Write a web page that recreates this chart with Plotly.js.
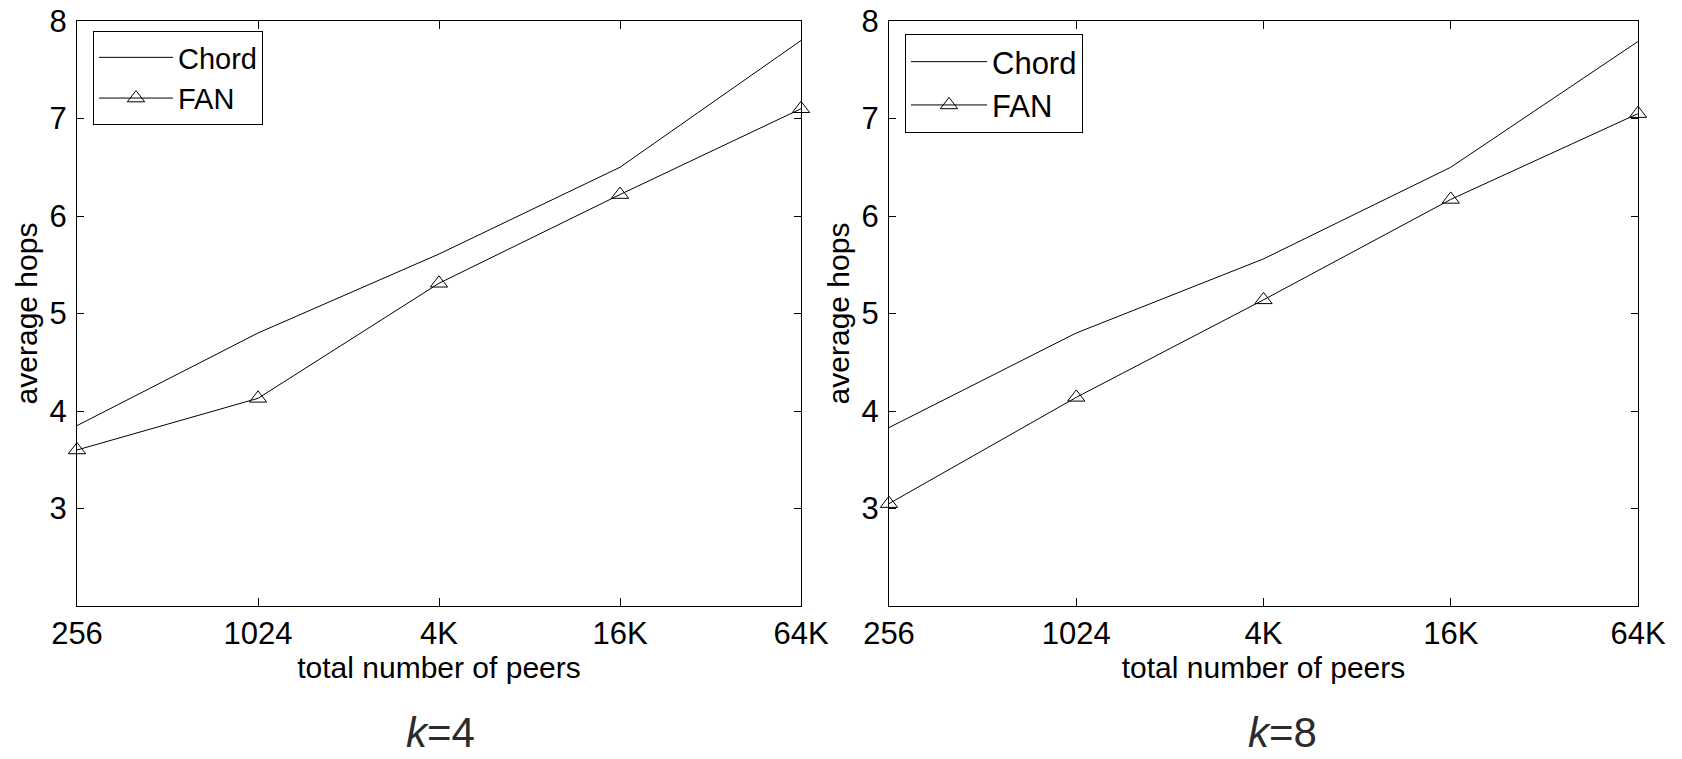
<!DOCTYPE html>
<html>
<head>
<meta charset="utf-8">
<script src="https://cdn.plot.ly/plotly-3.0.1.min.js"></script>
<style>
html,body{margin:0;padding:0;background:#fff;}
#chart{width:1682px;height:759px;}
</style>
</head>
<body>
<div id="chart"></div>
<script>
// ---- data ----
const peers = ['256', '1024', '4K', '16K', '64K'];
const chordK4 = [3.85, 4.80, 5.61, 6.50, 7.80];
const fanK4   = [3.60, 4.13, 5.31, 6.22, 7.10];
const chordK8 = [3.83, 4.80, 5.56, 6.50, 7.79];
const fanK8   = [3.05, 4.14, 5.14, 6.17, 7.05];
const yTicks = [3, 4, 5, 6, 7, 8];
const panelLabels = ['<i>k</i>=4', '<i>k</i>=8'];
const seriesNames = ['Chord', 'FAN'];

const FONT = 'Liberation Sans, Arial, sans-serif';
const W = 1682, H = 759;

function chordTrace(y, xa, ya, lg) {
  return {x: peers, y: y, xaxis: xa, yaxis: ya, legend: lg, name: seriesNames[0],
    mode: 'lines', cliponaxis: false, line: {color: '#000', width: 1}};
}
function fanTrace(y, xa, ya, lg) {
  return {x: peers, y: y, xaxis: xa, yaxis: ya, legend: lg, name: seriesNames[1],
    mode: 'lines+markers', cliponaxis: false, line: {color: '#000', width: 1},
    marker: {symbol: 'triangle-up-open', size: 15, color: '#000', line: {width: 1, color: '#000'}}};
}

const traces = [
  chordTrace(chordK4, 'x', 'y', 'legend'),
  fanTrace(fanK4, 'x', 'y', 'legend'),
  chordTrace(chordK8, 'x2', 'y2', 'legend2'),
  fanTrace(fanK8, 'x2', 'y2', 'legend2')
];

function xAxis(dom, anchor) {
  return {domain: dom, anchor: anchor, type: 'category', range: [0, 4],
    showline: true, linecolor: '#000', linewidth: 1, mirror: 'ticks',
    ticks: 'inside', ticklen: 8, tickcolor: '#000', tickwidth: 1,
    showgrid: false, zeroline: false,
    tickfont: {family: FONT, size: 31, color: '#000'},
    ticklabelstandoff: 0,
    title: {text: 'total number of peers', font: {family: FONT, size: 30, color: '#000'}, standoff: 0}};
}
function yAxis(dom, anchor) {
  return {domain: dom, anchor: anchor, range: [2, 8], tickvals: yTicks,
    showline: true, linecolor: '#000', linewidth: 1, mirror: 'ticks',
    ticks: 'inside', ticklen: 7, tickcolor: '#000', tickwidth: 1,
    showgrid: false, zeroline: false,
    tickfont: {family: FONT, size: 31, color: '#000'},
    ticklabelstandoff: 3,
    title: {text: 'average hops', font: {family: FONT, size: 30, color: '#000'}, standoff: 3}};
}

const yDom = [(H - 606) / H, (H - 21) / H];

const layout = {
  width: W, height: H,
  margin: {l: 0, r: 0, t: 0, b: 0},
  paper_bgcolor: '#fff', plot_bgcolor: '#fff',
  font: {family: FONT, color: '#000'},
  xaxis: xAxis([77 / W, 801 / W], 'y'),
  yaxis: yAxis(yDom, 'x'),
  xaxis2: xAxis([889 / W, 1638 / W], 'y2'),
  yaxis2: yAxis(yDom, 'x2'),
  showlegend: true,
  legend: {x: 93 / W, y: 1 - 31 / H, xanchor: 'left', yanchor: 'top',
    bgcolor: '#fff', bordercolor: '#000', borderwidth: 1,
    font: {family: FONT, size: 29, color: '#000'}, itemwidth: 74, tracegroupgap: 0},
  legend2: {x: 905 / W, y: 1 - 34 / H, xanchor: 'left', yanchor: 'top',
    bgcolor: '#fff', bordercolor: '#000', borderwidth: 1,
    font: {family: FONT, size: 31, color: '#000'}, itemwidth: 76, tracegroupgap: 0},
  annotations: [
    {text: panelLabels[0], xref: 'paper', yref: 'paper', x: 440 / W, y: 1 - 758 / H,
     xanchor: 'center', yanchor: 'bottom', showarrow: false,
     font: {family: FONT, size: 42, color: '#2b2b2b'}},
    {text: panelLabels[1], xref: 'paper', yref: 'paper', x: 1282 / W, y: 1 - 758 / H,
     xanchor: 'center', yanchor: 'bottom', showarrow: false,
     font: {family: FONT, size: 42, color: '#2b2b2b'}}
  ]
};

Plotly.newPlot('chart', traces, layout, {displayModeBar: false, staticPlot: true});
</script>
</body>
</html>
